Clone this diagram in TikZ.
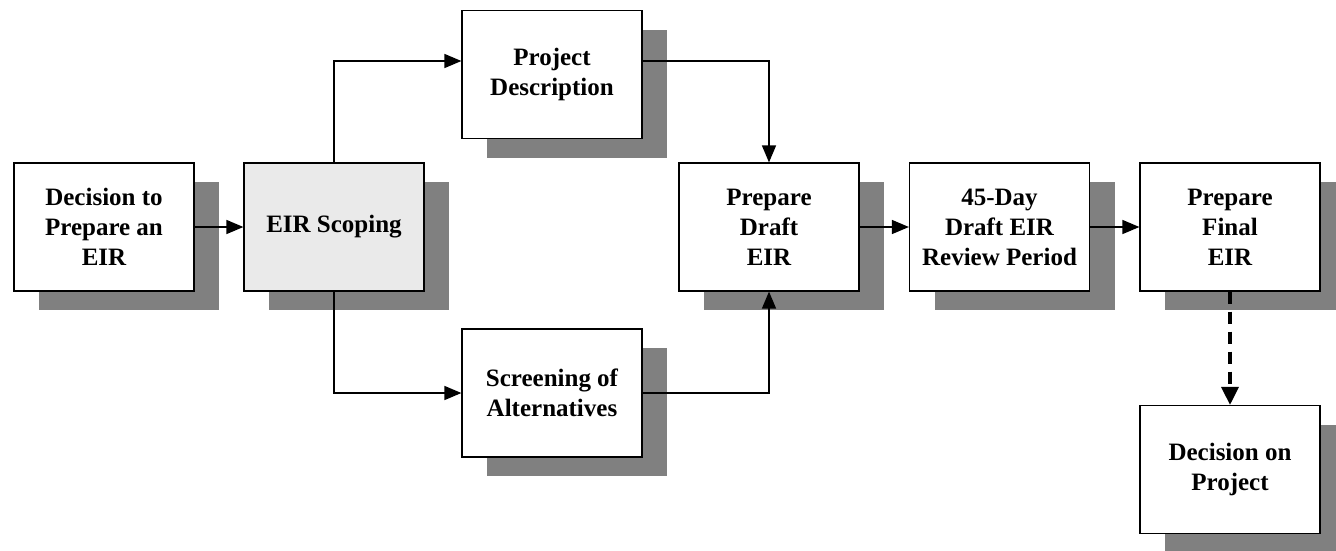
\documentclass[tikz,border=0pt]{standalone}
\usepackage{fontspec}
\setmainfont{Liberation Serif}
\usepackage{tikz}
\usetikzlibrary{shadows,arrows.meta}
\definecolor{shadowgray}{RGB}{128,128,128}
\definecolor{scopegray}{RGB}{234,234,234}

\begin{document}
\begin{tikzpicture}[x=1pt, y=-1pt,
    box/.style={draw, line width=1.2pt, fill=white, minimum width=180pt, minimum height=128pt,
        inner sep=0pt, align=center, font=\fontsize{25}{30}\selectfont\bfseries,
        drop shadow={shadow xshift=25pt, shadow yshift=-19pt, fill=shadowgray, opacity=1}},
    link/.style={line width=1.4pt, -{Triangle[length=17pt, width=14pt]}},
    maybe/.style={line width=3.4pt, dash pattern=on 12pt off 8pt, -{Triangle[length=18pt, width=17pt]}}]
    % Frame
        \useasboundingbox (0,0) rectangle (1336,550);
        \clip (0,0) rectangle (1336,550);

        % Boxes
        \node[box] (decide) at (104,227) {Decision to\\Prepare an\\EIR};
        \node[box, fill=scopegray] (scoping) at (334,227) {EIR Scoping};
        \node[box] (projdesc) at (552,74.5) {Project\\Description};
        \node[box] (screening) at (552,393) {Screening of\\Alternatives};
        \node[box] (draft) at (769,227) {Prepare\\Draft\\EIR};
        \node[box] (review) at (999.5,227) {45-Day\\Draft EIR\\Review Period};
        \node[box] (final) at (1230,227) {Prepare\\Final\\EIR};
        \node[box] (onproject) at (1230,469.5) {Decision on\\Project};

        % Links
        \draw[link] (decide) -- (scoping);
        \draw[link] (scoping.north) |- ([yshift=13.5pt]projdesc.west);
        \draw[link] (scoping.south) |- (screening.west);
        \draw[link] ([yshift=13.5pt]projdesc.east) -| (draft.north);
        \draw[link] (screening.east) -| (draft.south);
        \draw[link] (draft) -- (review);
        \draw[link] (review) -- (final);
        \draw[maybe] (final) -- (onproject);
    \end{tikzpicture}
\end{document}
